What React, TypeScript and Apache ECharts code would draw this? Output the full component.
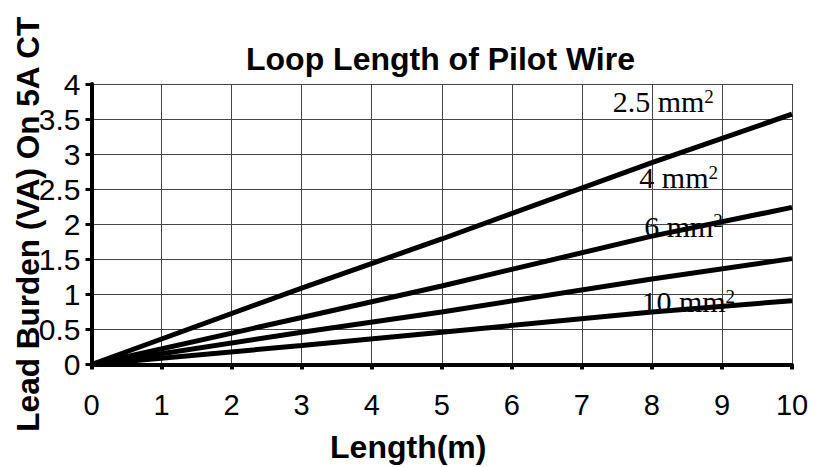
import React, { useEffect, useRef } from "react";
import * as echarts from "echarts";

const lengths = [0, 3, 5, 8, 10];
const burden25 = [0, 1.09, 1.79, 2.88, 3.57];
const burden4 = [0, 0.67, 1.12, 1.83, 2.24];
const burden6 = [0, 0.46, 0.75, 1.22, 1.51];
const burden10 = [0, 0.27, 0.46, 0.75, 0.91];
const seriesNames = ["2.5 mm", "4 mm", "6 mm", "10 mm"];
const labelCoords = [
  [7.44, 3.53],
  [7.82, 2.45],
  [7.89, 1.76],
  [7.85, 0.68],
];
const xTicks = [0, 1, 2, 3, 4, 5, 6, 7, 8, 9, 10];
const yTicks = [0, 0.5, 1, 1.5, 2, 2.5, 3, 3.5, 4];

export default function App() {
  const ref = useRef<HTMLDivElement>(null);
  useEffect(() => {
    document.body.style.margin = "0";
    if (!ref.current) return;
    const chart = echarts.init(ref.current, null, { renderer: "svg" });
    const all = [burden25, burden4, burden6, burden10];
    const series = all.map((vals, i) => ({
      type: "line",
      name: seriesNames[i],
      data: lengths.map((x, j) => [x, vals[j]]),
      symbol: "none",
      lineStyle: { color: "#000", width: 5 },
      z: 3,
      markPoint: {
        symbol: "circle",
        symbolSize: 0,
        silent: true,
        data: [
          {
            coord: labelCoords[i],
            label: {
              show: true,
              position: [0, 0],
              align: "left",
              verticalAlign: "bottom",
              formatter: "{a|" + seriesNames[i] + "}{s|2}",
              rich: {
                a: {
                  fontFamily: "Liberation Serif, Times New Roman, serif",
                  fontSize: 30,
                  lineHeight: 30,
                  color: "#000",
                },
                s: {
                  fontFamily: "Liberation Serif, Times New Roman, serif",
                  fontSize: 19,
                  lineHeight: 12,
                  verticalAlign: "top",
                  color: "#000",
                },
              },
            },
          },
        ],
      },
    }));
    chart.setOption({
      animation: false,
      backgroundColor: "#fff",
      title: {
        text: "Loop Length of Pilot Wire",
        left: 246,
        top: 43,
        padding: 0,
        textStyle: {
          fontFamily: "Arial, Liberation Sans, sans-serif",
          fontSize: 32,
          fontWeight: "bold",
          color: "#000",
        },
      },
      grid: {
        left: 91.5,
        right: 23,
        top: 84,
        bottom: 102.5,
        containLabel: false,
        outerBoundsMode: "none",
      },
      xAxis: {
        type: "value",
        min: xTicks[0],
        max: xTicks[xTicks.length - 1],
        interval: 1,
        name: "Length(m)",
        nameLocation: "middle",
        nameGap: 66,
        nameMoveOverlap: false,
        nameTextStyle: {
          fontFamily: "Arial, Liberation Sans, sans-serif",
          fontSize: 32,
          fontWeight: "bold",
          color: "#000",
          padding: [0, 67, 0, 0],
        },
        axisLine: { show: true, lineStyle: { color: "#000", width: 4 } },
        axisTick: { show: true, length: 5, lineStyle: { color: "#000", width: 4 } },
        axisLabel: {
          fontFamily: "Arial, Liberation Sans, sans-serif",
          fontSize: 29,
          color: "#000",
          margin: 26,
        },
        splitLine: { show: true, lineStyle: { color: "#444", width: 1 } },
      },
      yAxis: {
        type: "value",
        min: yTicks[0],
        max: yTicks[yTicks.length - 1],
        interval: 0.5,
        name: "Lead Burden (VA) On 5A CT",
        nameLocation: "middle",
        nameGap: 48,
        nameMoveOverlap: false,
        nameTextStyle: {
          fontFamily: "Arial, Liberation Sans, sans-serif",
          fontSize: 31.5,
          fontWeight: "bold",
          color: "#000",
        },
        axisLine: { show: true, lineStyle: { color: "#000", width: 4 } },
        axisTick: { show: true, length: 6, lineStyle: { color: "#000", width: 3 } },
        axisLabel: {
          fontFamily: "Arial, Liberation Sans, sans-serif",
          fontSize: 30,
          color: "#000",
          margin: 11,
        },
        splitLine: { show: true, lineStyle: { color: "#444", width: 1 } },
      },
      series,
    });
    return () => chart.dispose();
  }, []);
  return <div ref={ref} style={{ width: 815, height: 467 }} />;
}
